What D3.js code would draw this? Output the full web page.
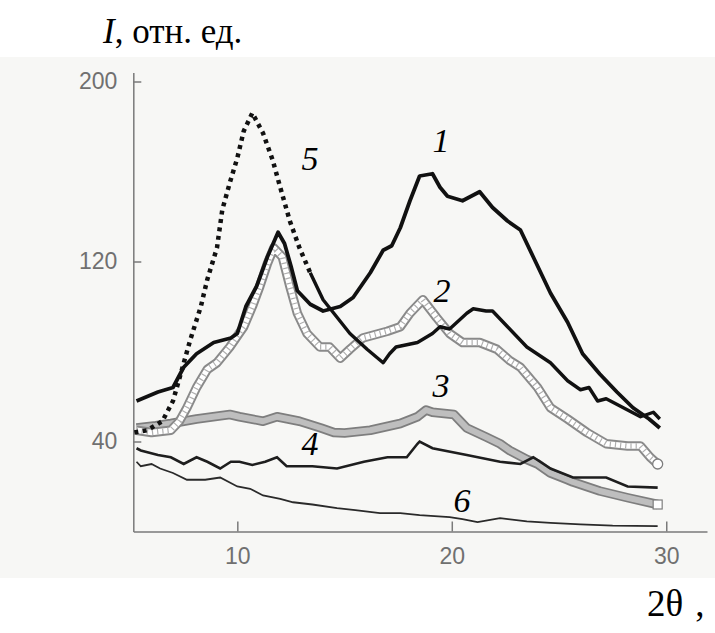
<!DOCTYPE html>
<html>
<head>
<meta charset="utf-8">
<script src="https://cdn.jsdelivr.net/npm/d3@7"></script>
<style>
  html, body { margin: 0; padding: 0; background: #ffffff; }
  #chart { width: 715px; height: 633px; }
</style>
</head>
<body>
<div id="chart"></div>
<script>
// [2theta, I] pairs
const curve1 = [[5.3,58],[6.3,62],[7.0,64],[7.5,73],[8.1,79],[8.9,84],[9.7,86],[10.0,88],[10.4,100],[10.9,109],[11.4,122],[11.9,133],[12.2,128],[12.5,118],[12.8,107],[13.4,101],[14.0,98],[14.8,100],[15.4,104],[16.2,115],[16.8,125],[17.2,127],[17.6,135],[18.05,147],[18.5,158],[19.1,159],[19.45,153],[19.8,149],[20.5,147],[21.3,151],[21.9,144],[22.6,138],[23.2,134],[23.8,122],[24.6,106],[25.4,93],[26.1,79],[26.9,70],[27.7,62],[28.45,55],[29.2,50],[29.7,46]];
const curve2 = [[5.3,45],[6.0,44],[6.9,45],[7.3,49],[7.65,55],[8.1,64],[8.6,72],[9.05,75],[9.65,82],[10.3,91],[10.7,100],[11.05,109],[11.4,119],[11.7,126],[12.1,122],[12.45,109],[12.8,97],[13.25,88],[13.85,82],[14.3,82],[14.8,77],[15.25,81],[15.85,86],[17.0,89],[17.6,91],[18.05,97],[18.65,103],[19.3,95],[19.9,88],[20.5,84],[21.3,84],[22.1,81],[22.7,76],[23.2,73],[24.0,64],[24.6,55],[25.4,50],[26.3,44],[27.2,39],[28.2,38],[28.8,38],[29.25,33],[29.6,30]];
const curve3 = [[5.3,46],[6.2,47],[6.9,48],[8.1,50],[9.65,52],[10.1,51],[11.2,49],[11.85,51],[12.9,49],[13.9,46],[14.5,44],[15.0,43.8],[16.2,45],[17.6,48],[18.4,51],[18.8,54],[19.1,53],[20.1,52],[20.7,46],[21.6,42],[22.25,39],[22.7,36],[23.5,32],[24.0,30],[24.6,26],[25.4,23],[25.65,22],[26.9,18],[28.2,15],[29.6,12]];
const curve4 = [[5.3,37],[5.5,36],[6.3,34],[6.9,33],[7.5,30],[8.1,33],[8.6,31],[9.2,28],[9.7,31],[10.1,31],[10.7,29.6],[11.3,31],[11.85,33],[12.3,29],[12.6,29],[13.5,29],[14.65,28],[15.9,31],[17.0,33],[17.9,33],[18.4,39],[18.5,40],[19.1,37],[20.7,34],[22.25,31],[23.2,30],[23.8,33],[24.6,28],[25.65,24],[27.2,24],[28.2,20],[29.6,19.5]];
const curve5 = [[5.2,44],[5.8,45],[6.5,49],[7.0,58],[7.3,68],[7.8,85],[8.3,100],[8.6,112],[9.05,126],[9.3,143],[9.65,155],[10.0,166],[10.3,178],[10.7,186],[11.2,177],[11.65,165],[12.0,153],[12.45,138],[12.9,126],[13.4,115],[14.0,103],[14.5,97],[15.25,88],[16.05,81],[16.8,75],[17.1,79],[17.4,82],[18.4,84],[19.1,88],[19.45,91],[19.9,90],[20.7,97],[21.0,99],[21.6,98],[21.9,98],[22.6,91],[23.5,82],[24.6,75],[25.4,67],[26.0,63],[26.4,64],[26.8,58],[27.2,59],[28.0,55],[28.8,51],[29.4,53],[29.7,50]];
const curve6 = [[5.3,31],[5.5,29],[6.0,30],[6.4,28],[7.0,26],[7.65,23],[8.5,23],[9.2,24],[10.0,20],[10.6,19],[11.2,16],[12.0,14.5],[12.6,13],[13.5,12],[14.65,10.4],[15.5,9.5],[16.65,8.2],[17.6,8.2],[18.5,7.3],[19.9,6.4],[20.5,5.5],[21.2,4.2],[22.25,5.9],[23.5,4.5],[24.6,3.8],[26.0,3.2],[27.5,2.6],[29.6,2.4]];

const xTicks = [10, 20, 30];
const yTicks = [40, 120, 200];
const curveNames = ["1", "2", "3", "4", "5", "6"];
// label anchors in data units: [2theta, I]
const labelAnchors = [[19.5,168.7],[19.54,102],[19.5,59.8],[13.39,34],[13.39,160.7],[20.48,8.7]];

const W = 715, H = 633;

const svg = d3.select("#chart")
  .append("svg")
  .attr("width", W)
  .attr("height", H);

// scanned page tint
svg.append("rect")
  .attr("x", 0).attr("y", 57)
  .attr("width", W).attr("height", 521)
  .attr("fill", "#f7f7f5");

const x = d3.scaleLinear().domain([5.15, 31.9]).range([133.3, 707]);
const y = d3.scaleLinear().domain([0, 204]).range([531.5, 72.5]);

// axes
const xAxis = svg.append("g")
  .attr("transform", `translate(0,${y(0)})`)
  .call(d3.axisBottom(x)
    .tickValues(xTicks)
    .tickSizeInner(-10)
    .tickSizeOuter(0)
    .tickPadding(16));

const yAxis = svg.append("g")
  .attr("transform", `translate(${x(5.15)},0)`)
  .call(d3.axisLeft(y)
    .tickValues(yTicks)
    .tickSizeInner(-8)
    .tickSizeOuter(0)
    .tickPadding(16));

[xAxis, yAxis].forEach(g => {
  g.select(".domain").attr("stroke", "#7a7a7a").attr("stroke-width", 1.5);
  g.selectAll(".tick line").attr("stroke", "#7a7a7a").attr("stroke-width", 1.5);
  g.selectAll(".tick text")
    .style("font-family", "'Liberation Sans', Arial, sans-serif")
    .style("font-size", "23px")
    .attr("fill", "#707070");
});

const line = d3.line()
  .x(d => x(d[0]))
  .y(d => y(d[1]));

// curve 3: grey filled markers merging into a band
svg.append("path").datum(curve3)
  .attr("fill", "none").attr("stroke", "#7e7e7e").attr("stroke-width", 9.5)
  .attr("stroke-linejoin", "round").attr("d", line);
svg.append("path").datum(curve3)
  .attr("fill", "none").attr("stroke", "#bebebe").attr("stroke-width", 6)
  .attr("stroke-linejoin", "round").attr("d", line);
const last3 = curve3[curve3.length - 1];
svg.append("rect")
  .attr("x", x(last3[0]) - 4.5).attr("y", y(last3[1]) - 4.5)
  .attr("width", 9).attr("height", 9)
  .attr("fill", "#ffffff").attr("stroke", "#7e7e7e").attr("stroke-width", 1.2);

// curve 2: open circles
svg.append("path").datum(curve2)
  .attr("fill", "none").attr("stroke", "#8a8a8a").attr("stroke-width", 9.5)
  .attr("stroke-linejoin", "round").attr("d", line);
svg.append("path").datum(curve2)
  .attr("fill", "none").attr("stroke", "#ffffff").attr("stroke-width", 5.5)
  .attr("stroke-linejoin", "round").attr("d", line);
svg.append("path").datum(curve2)
  .attr("fill", "none").attr("stroke", "#b0b0b0").attr("stroke-width", 5.5)
  .attr("stroke-dasharray", "1.2 4").attr("d", line);
const last2 = curve2[curve2.length - 1];
svg.append("circle")
  .attr("cx", x(last2[0])).attr("cy", y(last2[1])).attr("r", 5)
  .attr("fill", "#ffffff").attr("stroke", "#7e7e7e").attr("stroke-width", 1.3);

// curve 6 and 4: thin black lines
svg.append("path").datum(curve6)
  .attr("fill", "none").attr("stroke", "#2a2a2a").attr("stroke-width", 1.8)
  .attr("d", line);
svg.append("path").datum(curve4)
  .attr("fill", "none").attr("stroke", "#1e1e1e").attr("stroke-width", 2.6)
  .attr("d", line);

// curve 5: triangles on the peak, dense markers after
svg.append("path").datum(curve5.filter(d => d[0] <= 13.4))
  .attr("fill", "none").attr("stroke", "#111111").attr("stroke-width", 4.5)
  .attr("stroke-dasharray", "4 4.5").attr("d", line);
svg.append("path").datum(curve5.filter(d => d[0] >= 13.4))
  .attr("fill", "none").attr("stroke", "#111111").attr("stroke-width", 3.4)
  .attr("stroke-linejoin", "round").attr("d", line);

// curve 1: thick black line
svg.append("path").datum(curve1)
  .attr("fill", "none").attr("stroke", "#111111").attr("stroke-width", 3.8)
  .attr("stroke-linejoin", "round").attr("d", line);

// curve numbers
svg.selectAll(".curve-label")
  .data(curveNames)
  .enter()
  .append("text")
  .attr("class", "curve-label")
  .attr("x", (d, i) => x(labelAnchors[i][0]))
  .attr("y", (d, i) => y(labelAnchors[i][1]))
  .attr("text-anchor", "middle")
  .style("font-family", "'Liberation Serif', 'Times New Roman', serif")
  .style("font-style", "italic")
  .style("font-size", "34px")
  .attr("fill", "#000000")
  .text(d => d);

// axis titles
const yTitle = svg.append("text")
  .attr("x", 103)
  .attr("y", 43)
  .style("font-family", "'Liberation Serif', 'Times New Roman', serif")
  .style("font-size", "35px")
  .attr("fill", "#000000");
yTitle.append("tspan").style("font-style", "italic").text("I");
yTitle.append("tspan").text(", отн. ед.");

const xTitle = svg.append("text")
  .attr("x", 647)
  .attr("y", 616)
  .style("font-family", "'Liberation Serif', 'Times New Roman', serif")
  .style("font-size", "37px")
  .attr("fill", "#000000");
xTitle.append("tspan").text("2θ");
xTitle.append("tspan").attr("dx", 12).text(",");
</script>
</body>
</html>
